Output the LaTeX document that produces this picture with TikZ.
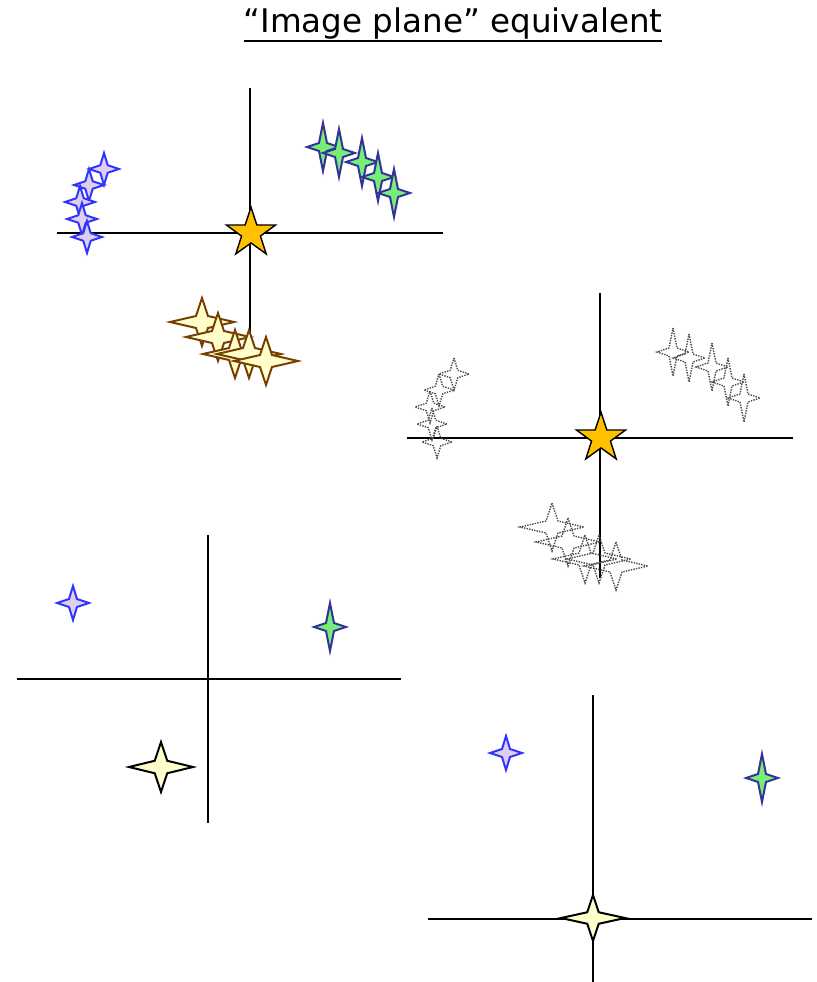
\documentclass[tikz,border=0pt]{standalone}
\usepackage{fontspec}
\setmainfont{DejaVu Sans}
\usetikzlibrary{shapes.geometric}

\definecolor{sparkblue}{HTML}{3333FF}
\definecolor{sparklav}{HTML}{DDD0EC}
\definecolor{sparkgreen}{HTML}{77EE77}
\definecolor{sparknavy}{HTML}{333399}
\definecolor{sparkbrown}{HTML}{773F00}
\definecolor{sparkcream}{HTML}{FFFFCC}
\definecolor{sungold}{HTML}{FFC000}

% thick underline for the heading
\newsavebox{\ulbox}
\newcommand{\thickul}[1]{\sbox{\ulbox}{#1}\rlap{\usebox{\ulbox}}\rule[-7.5pt]{\wd\ulbox}{1.6pt}}

% ----- helper: four-point sparkle -----
% \Spark{style}{x}{y}{half width}{half height}
\newcommand{\Spark}[5]{%
  \pgfmathsetmacro\ins{0.25*min(#4,#5)}
  \draw[#1] (#2,{#3-#5}) -- ({#2+\ins},{#3-\ins}) -- ({#2+#4},#3)
    -- ({#2+\ins},{#3+\ins}) -- (#2,{#3+#5}) -- ({#2-\ins},{#3+\ins})
    -- ({#2-#4},#3) -- ({#2-\ins},{#3-\ins}) -- cycle;
}
% \Cluster{blue style}{green style}{brown style}
\newcommand{\Cluster}[3]{%
  \foreach \px/\py in {104/169,89/185,80/202,82/219,87/237}
    {\Spark{#1}{\px}{\py}{15}{16}}
  \foreach \px/\py in {323/147,339/153,362/162,378/177,394/193}
    {\Spark{#2}{\px}{\py}{16}{24}}
  \foreach \px/\py in {202/322,218/337,235/354,249/354,266/361}
    {\Spark{#3}{\px}{\py}{32}{24}}
}

\begin{document}
\begin{tikzpicture}[x=0.03cm,y=-0.03cm]
\tikzset{
  axis/.style={line width=1.6pt, black},
  bluespark/.style={draw=sparkblue, fill=sparklav, line width=1.7pt, line join=miter},
  greenspark/.style={draw=sparknavy, fill=sparkgreen, line width=1.7pt, line join=miter},
  brownspark/.style={draw=sparkbrown, fill=sparkcream, line width=1.7pt, line join=miter},
  creamspark/.style={draw=black, fill=sparkcream, line width=1.7pt, line join=miter},
  ghost/.style={draw=black!70, densely dotted, line width=1.2pt},
  sun/.style={star, star points=5, star point ratio=2.6, draw=black, fill=sungold,
    line width=1.2pt, minimum size=1.55cm, inner sep=0pt},
  heading/.style={font=\fontsize{27.8}{32}\selectfont, inner sep=0pt, anchor=base}
}
\useasboundingbox (0,0) rectangle (817,982);

% title
\node[heading] (title) at (453,33) {\thickul{“Image plane” equivalent}};

% ----- top left: image plane -----
\coordinate (a1n) at (250,88);  \coordinate (a1s) at (250,373);
\coordinate (a1w) at (57,233);  \coordinate (a1e) at (443,233);
\draw[axis] (a1n) -- (a1s);
\draw[axis] (a1w) -- (a1e);
\node[sun] (sun1) at (251,233) {};
\Cluster{bluespark}{greenspark}{brownspark}

% ----- middle right: shifted copy -----
\begin{scope}[shift={(350,205)}]
  \coordinate (a2n) at (250,88);  \coordinate (a2s) at (250,373);
  \coordinate (a2w) at (57,233);  \coordinate (a2e) at (443,233);
  \draw[axis] (a2n) -- (a2s);
  \draw[axis] (a2w) -- (a2e);
  \Cluster{ghost}{ghost}{ghost}
  \node[sun] (sun2) at (251,233) {};
\end{scope}

% ----- bottom left -----
\coordinate (a3n) at (208,535); \coordinate (a3s) at (208,823);
\coordinate (a3w) at (17,679);  \coordinate (a3e) at (401,679);
\draw[axis] (a3n) -- (a3s);
\draw[axis] (a3w) -- (a3e);
\Spark{bluespark}{73}{603}{16}{17}
\Spark{greenspark}{330}{627}{16}{24}
\Spark{creamspark}{161}{767}{32}{25}

% ----- bottom right -----
\coordinate (a4n) at (593,695); \coordinate (a4s) at (593,982);
\coordinate (a4w) at (428,919); \coordinate (a4e) at (812,919);
\draw[axis] (a4n) -- (a4s);
\draw[axis] (a4w) -- (a4e);
\Spark{bluespark}{506}{753}{16}{17}
\Spark{greenspark}{762}{778}{16}{24}
\Spark{creamspark}{593}{918}{32}{23}

\end{tikzpicture}
\end{document}
